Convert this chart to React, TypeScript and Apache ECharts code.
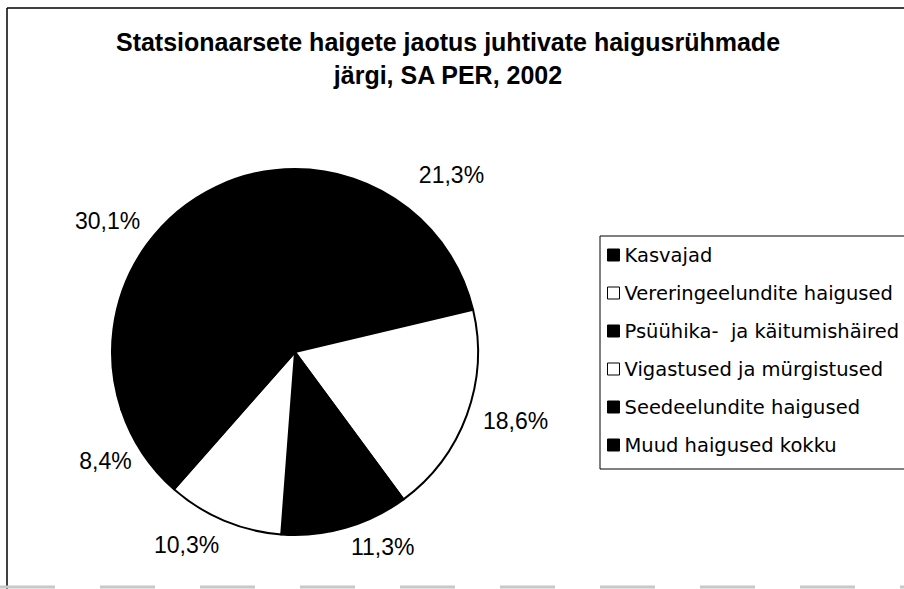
import React, { useEffect, useRef } from 'react';
import * as echarts from 'echarts';

const titleLines = ['Statsionaarsete haigete jaotus juhtivate haigusrühmade', 'järgi, SA PER, 2002'];
const categories = [
  'Kasvajad',
  'Vereringeelundite haigused',
  'Psüühika-  ja käitumishäired',
  'Vigastused ja mürgistused',
  'Seedeelundite haigused',
  'Muud haigused kokku',
];
const shares = [21.3, 18.6, 11.3, 10.3, 8.4, 30.1];
const sliceColors = ['#000000', '#ffffff', '#000000', '#ffffff', '#000000', '#000000'];

const fmt = (p: any) => Number(p.value).toFixed(1).replace('.', ',') + '%';

export default function App() {
  const ref = useRef<HTMLDivElement>(null);
  useEffect(() => {
    if (!ref.current) return;
    const chart = echarts.init(ref.current, null, { renderer: 'svg' });
    // small nudges of the library-placed labels, mimicking the spreadsheet's "best fit"
    const labelNudge = [[20, -4], [14, -7], [27, -16], [-23, -10], [-6, -12], [-9, -2]];
    const pieData = categories.map((n, i) => ({ name: n, value: shares[i], itemStyle: { color: sliceColors[i] } }));
    const ringData = categories.map((n, i) => ({ name: n, value: shares[i], label: { offset: labelNudge[i] } }));
    chart.setOption({
      animation: false,
      backgroundColor: '#ffffff',
      title: {
        text: titleLines.join('\n'),
        left: 448,
        top: 25,
        textAlign: 'center',
        padding: 0,
        textStyle: { fontFamily: 'Liberation Sans', fontWeight: 'bold', fontSize: 25, lineHeight: 33, color: '#000' },
      },
      legend: {
        orient: 'vertical',
        left: 600,
        top: 236,
        padding: [9, 40, 14, 7],
        itemWidth: 12,
        itemHeight: 12,
        itemGap: 18,
        borderColor: '#000',
        borderWidth: 1,
        icon: 'rect',
        selectedMode: false,
        data: categories.map((n, i) => ({
          name: n,
          itemStyle: { color: sliceColors[i], borderColor: '#000', borderWidth: 1 },
        })),
        textStyle: { fontFamily: 'DejaVu Sans', fontSize: 19.5, lineHeight: 19, color: '#000' },
      },
      series: [
        {
          type: 'pie',
          center: [295, 352],
          radius: 183,
          startAngle: 90,
          clockwise: true,
          silent: true,
          data: pieData,
          itemStyle: { borderColor: '#000', borderWidth: 2 },
          label: { show: false },
          labelLine: { show: false },
          emphasis: { disabled: true },
        },
        {
          type: 'pie',
          center: [295, 352],
          radius: [183, 251],
          startAngle: 90,
          clockwise: true,
          silent: true,
          data: ringData,
          itemStyle: { color: 'rgba(0,0,0,0)', borderWidth: 0 },
          label: {
            show: true,
            position: 'inside',
            formatter: fmt,
            fontFamily: 'Liberation Sans',
            fontSize: 23,
            color: '#000',
            textBorderWidth: 0,
          },
          labelLine: { show: false },
          emphasis: { disabled: true },
        },
      ],
      graphic: [
        { type: 'line', shape: { x1: 7, y1: 8, x2: 904, y2: 8 }, style: { stroke: '#000', lineWidth: 1.5 } },
        { type: 'line', shape: { x1: 7, y1: 8, x2: 7, y2: 589 }, style: { stroke: '#000', lineWidth: 1.5 } },
        { type: 'line', shape: { x1: 0, y1: 587, x2: 904, y2: 587 }, style: { stroke: '#c8c8c8', lineWidth: 3, lineDash: [55, 45] } },
      ],
    });
    return () => chart.dispose();
  }, []);
  return <div ref={ref} style={{ position: 'absolute', left: 0, top: 0, width: 904, height: 589 }} />;
}
